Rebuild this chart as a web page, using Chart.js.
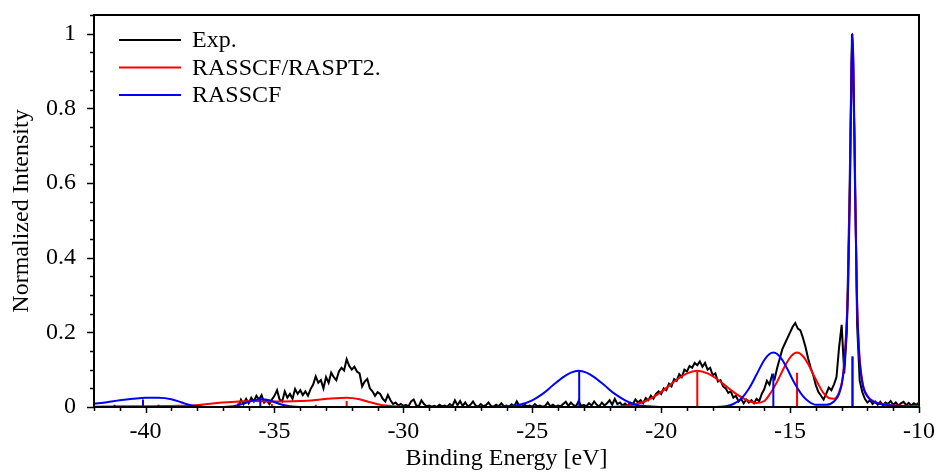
<!DOCTYPE html>
<html><head><meta charset="utf-8">
<script src="https://cdn.jsdelivr.net/npm/chart.js@4"></script>
<style>html,body{margin:0;padding:0;background:#fff}</style>
</head><body>
<canvas id="c" width="939" height="474"></canvas>
<script>
const expStart = -36.4;
const expStep = 0.1;
const expI = [
  0.000, 0.020, 0.008, 0.022, 0.010, 0.025, 0.015, 0.030, 0.020, 0.032,
  0.012, 0.018, 0.008, 0.020, 0.030, 0.045, 0.020, 0.015, 0.042, 0.025,
  0.035, 0.022, 0.048, 0.035, 0.045, 0.032, 0.042, 0.030, 0.048, 0.060,
  0.082, 0.065, 0.072, 0.050, 0.080, 0.065, 0.092, 0.080, 0.072, 0.095,
  0.105, 0.098, 0.128, 0.110, 0.100, 0.108, 0.095, 0.090, 0.055, 0.068,
  0.075, 0.050, 0.042, 0.030, 0.040, 0.035, 0.022, 0.015, 0.032, 0.018,
  0.008, 0.012, 0.004, 0.008, 0.003, 0.006, 0.002, 0.015, 0.020, 0.004,
  0.002, 0.018, 0.008, 0.002, 0.004, 0.001, 0.003, 0.000, 0.006, 0.002,
  0.004, 0.001, 0.008, 0.002, 0.018, 0.005, 0.016, 0.003, 0.012, 0.002,
  0.006, 0.015, 0.004, 0.001, 0.008, 0.002, 0.005, 0.012, 0.003, 0.001,
  0.006, 0.002, 0.010, 0.002, 0.004, 0.001, 0.007, 0.002, 0.015, 0.003,
  0.001, 0.006, 0.002, 0.004, 0.001, 0.008, 0.002, 0.004, 0.001, 0.003,
  0.012, 0.002, 0.006, 0.001, 0.004, 0.002, 0.008, 0.014, 0.003, 0.012,
  0.005, 0.002, 0.016, 0.003, 0.006, 0.002, 0.010, 0.004, 0.015, 0.006,
  0.002, 0.012, 0.004, 0.010, 0.018, 0.006, 0.022, 0.008, 0.012, 0.004,
  0.009, 0.003, 0.012, 0.008, 0.020, 0.012, 0.018, 0.010, 0.024, 0.018,
  0.030, 0.022, 0.035, 0.042, 0.035, 0.050, 0.045, 0.062, 0.055, 0.075,
  0.070, 0.088, 0.080, 0.100, 0.095, 0.110, 0.105, 0.118, 0.112, 0.122,
  0.108, 0.118, 0.100, 0.105, 0.085, 0.090, 0.068, 0.072, 0.055, 0.050,
  0.038, 0.042, 0.025, 0.030, 0.015, 0.022, 0.010, 0.020, 0.012, 0.018,
  0.010, 0.022, 0.015, 0.035, 0.048, 0.070, 0.060, 0.085, 0.075, 0.105,
  0.130, 0.155, 0.170, 0.185, 0.200, 0.215, 0.225, 0.210, 0.205, 0.185,
  0.160, 0.130, 0.105, 0.085, 0.058, 0.040, 0.030, 0.020, 0.035, 0.052,
  0.045, 0.060, 0.080, 0.160, 0.220, 0.090, 0.200, 0.550, 1.000, 0.720,
  0.220, 0.070, 0.040, 0.022, 0.012, 0.018, 0.008, 0.015, 0.006, 0.014,
  0.005, 0.012, 0.008, 0.016, 0.006, 0.012, 0.004, 0.010, 0.014, 0.005,
  0.011, 0.004, 0.010, 0.006, 0.012
];

// RASSCF broadened spectrum (blue)
const rasscfE = [-42, -41.5, -41, -40.5, -40, -39.5, -39, -38.6, -38.2, -37.8, -37.2, -36.6, -36.2, -35.8, -35.5, -35.2, -34.8, -34.4, -34, -30, -26.5, -26, -25.5, -25, -24.6, -24.2, -23.8, -23.5, -23.2, -22.9, -22.6, -22.2, -21.8, -21.4, -21, -20.5, -20, -18, -17.5, -17.2, -16.9, -16.6, -16.3, -16, -15.8, -15.65, -15.5, -15.3, -15.1, -14.9, -14.7, -14.5, -14.3, -14, -13.6, -13.3, -13.1, -12.95, -12.85, -12.75, -12.68, -12.62, -12.58, -12.54, -12.48, -12.41, -12.33, -12.2, -12, -11.7, -11.3, -10.5, -10];
const rasscfI = [0.009, 0.013, 0.018, 0.022, 0.025, 0.025, 0.021, 0.012, 0.004, 0.001, 0, 0.002, 0.009, 0.018, 0.021, 0.018, 0.008, 0.002, 0, 0, 0, 0.002, 0.006, 0.018, 0.035, 0.058, 0.08, 0.092, 0.097, 0.092, 0.08, 0.058, 0.035, 0.018, 0.006, 0.002, 0, 0, 0.002, 0.008, 0.022, 0.049, 0.087, 0.126, 0.142, 0.146, 0.142, 0.126, 0.101, 0.073, 0.049, 0.029, 0.016, 0.006, 0.006, 0.015, 0.035, 0.08, 0.16, 0.32, 0.58, 0.9, 1.0, 0.9, 0.58, 0.3, 0.15, 0.065, 0.028, 0.012, 0.006, 0.002, 0.001];

// RASSCF/RASPT2 broadened spectrum (red)
const rasptE = [-42, -41, -40, -39, -38.3, -37.6, -37, -36.4, -35.8, -35.2, -34.6, -34, -33.4, -32.8, -32.2, -31.7, -31.3, -30.9, -30.4, -29.8, -22, -21.5, -21, -20.6, -20.2, -19.8, -19.4, -19, -18.6, -18.2, -17.8, -17.4, -17, -16.6, -16.3, -16, -15.8, -15.5, -15.2, -14.95, -14.73, -14.5, -14.3, -14.1, -13.9, -13.7, -13.5, -13.3, -13.1, -12.95, -12.85, -12.75, -12.68, -12.62, -12.58, -12.54, -12.48, -12.41, -12.33, -12.2, -12, -11.7, -11.3, -10.5, -10];
const rasptI = [0.001, 0.002, 0.002, 0.003, 0.004, 0.008, 0.012, 0.015, 0.016, 0.015, 0.015, 0.016, 0.019, 0.023, 0.025, 0.021, 0.013, 0.006, 0.002, 0, 0, 0.002, 0.0075, 0.016, 0.031, 0.051, 0.073, 0.09, 0.097, 0.09, 0.073, 0.051, 0.031, 0.016, 0.011, 0.016, 0.033, 0.068, 0.11, 0.137, 0.146, 0.136, 0.115, 0.087, 0.06, 0.037, 0.024, 0.022, 0.04, 0.085, 0.17, 0.33, 0.59, 0.9, 1.0, 0.9, 0.59, 0.31, 0.16, 0.07, 0.03, 0.013, 0.007, 0.003, 0.002];

// Stick spectra
const rasscfStickE = [-41.2, -40.1, -39.5, -35.55, -23.18, -15.65, -12.58];
const rasscfStickH = [0.006, 0.02, 0.006, 0.02, 0.095, 0.09, 0.135];
const rasptStickE = [-36.4, -35.1, -33.4, -32.2, -18.6, -14.73, -12.58];
const rasptStickH = [0.012, 0.008, 0.006, 0.016, 0.095, 0.092, 0.135];

const xTickLabels = [-40, -35, -30, -25, -20, -15, -10];
const yTickLabels = [0, 0.2, 0.4, 0.6, 0.8, 1];

const FONT = "'Liberation Serif', 'Times New Roman', serif";

function pts(E, I) { return E.map((e, i) => ({x: e, y: I[i]})); }
function sticks(E, H) {
  const out = [];
  E.forEach((e, i) => { out.push({x: e, y: 0}, {x: e, y: H[i]}, {x: e, y: null}); });
  return out;
}
const expData = expI.map((v, i) => ({x: Math.round((expStart + i * expStep) * 100) / 100, y: v}));

const isXMajor = v => xTickLabels.some(t => Math.abs(t - v) < 1e-6);
const isYMajor = v => yTickLabels.some(t => Math.abs(t - v) < 1e-6);

const framePlugin = {
  id: 'frameLegend',
  afterDraw(chart) {
    const ctx = chart.ctx;
    const a = chart.chartArea;
    const xs = chart.scales.x, ys = chart.scales.y;
    ctx.save();
    // tick marks (major longer than minor)
    ctx.strokeStyle = '#000';
    ctx.lineWidth = 1.5;
    ctx.beginPath();
    xs.ticks.forEach(t => {
      const px = Math.round(xs.getPixelForValue(t.value)) + 0.5;
      const len = isXMajor(t.value) ? 6 : 4;
      ctx.moveTo(px, a.bottom);
      ctx.lineTo(px, a.bottom + len);
    });
    ys.ticks.forEach(t => {
      const py = Math.round(ys.getPixelForValue(t.value)) + 0.5;
      const len = isYMajor(t.value) ? 7 : 4;
      ctx.moveTo(a.left, py);
      ctx.lineTo(a.left - len, py);
    });
    ctx.stroke();
    // frame
    ctx.lineWidth = 2;
    ctx.strokeRect(a.left, a.top, a.right - a.left, a.bottom - a.top);
    // legend inside the plot
    const items = chart.data.datasets.filter(d => d.inLegend);
    ctx.font = '24px ' + FONT;
    ctx.textBaseline = 'middle';
    ctx.textAlign = 'left';
    items.forEach((d, i) => {
      const y = 40 + i * 27.5;
      ctx.strokeStyle = d.borderColor;
      ctx.lineWidth = 2;
      ctx.beginPath();
      ctx.moveTo(119, y);
      ctx.lineTo(181, y);
      ctx.stroke();
      ctx.fillStyle = '#000';
      ctx.fillText(d.label, 192, y + 1);
    });
    ctx.restore();
  }
};

new Chart(document.getElementById('c'), {
  type: 'line',
  data: {
    datasets: [
      {label: 'Exp.', inLegend: true, data: expData, borderColor: '#000000', borderWidth: 2, pointRadius: 0, order: 5},
      {label: 'RASSCF/RASPT2.', inLegend: true, data: pts(rasptE, rasptI), borderColor: '#ff0000', borderWidth: 2, pointRadius: 0, cubicInterpolationMode: 'monotone', order: 4},
      {label: 'RASPT2 sticks', data: sticks(rasptStickE, rasptStickH), borderColor: '#ff0000', borderWidth: 2, pointRadius: 0, spanGaps: false, order: 3},
      {label: 'RASSCF', inLegend: true, data: pts(rasscfE, rasscfI), borderColor: '#0000ff', borderWidth: 2, pointRadius: 0, cubicInterpolationMode: 'monotone', order: 2},
      {label: 'RASSCF sticks', data: sticks(rasscfStickE, rasscfStickH), borderColor: '#0000ff', borderWidth: 2, pointRadius: 0, spanGaps: false, order: 1}
    ]
  },
  options: {
    responsive: false,
    animation: false,
    devicePixelRatio: 1,
    layout: {padding: {left: 10, right: 20, top: 15, bottom: 0}},
    plugins: {legend: {display: false}, tooltip: {enabled: false}},
    scales: {
      x: {
        type: 'linear', min: -42, max: -10,
        ticks: {
          stepSize: 1, autoSkip: false, maxRotation: 0, color: '#000', padding: 13,
          font: {family: FONT, size: 24, lineHeight: 1},
          callback: v => isXMajor(v) ? String(v) : ''
        },
        grid: {drawOnChartArea: false, drawTicks: false},
        border: {display: true, color: '#000', width: 2},
        title: {display: true, text: 'Binding Energy [eV]', color: '#000', font: {family: FONT, size: 24, lineHeight: 1}, padding: {top: 0, bottom: 3}},
        afterFit: s => { s.height = 67; s.paddingLeft = 0; s.paddingRight = 0; }
      },
      y: {
        min: 0, max: 1.05,
        ticks: {
          stepSize: 0.05, autoSkip: false, color: '#000', padding: 18,
          font: {family: FONT, size: 24, lineHeight: 1},
          callback: v => { const t = yTickLabels.find(t => Math.abs(t - v) < 1e-6); return t === undefined ? '' : String(t); }
        },
        grid: {drawOnChartArea: false, drawTicks: false},
        border: {display: true, color: '#000', width: 2},
        title: {display: true, text: 'Normalized Intensity', color: '#000', font: {family: FONT, size: 24, lineHeight: 1}, padding: {top: 0, bottom: 0}},
        afterFit: s => { s.width = 84; s.paddingTop = 0; s.paddingBottom = 0; }
      }
    }
  },
  plugins: [framePlugin]
});
</script>
</body></html>
